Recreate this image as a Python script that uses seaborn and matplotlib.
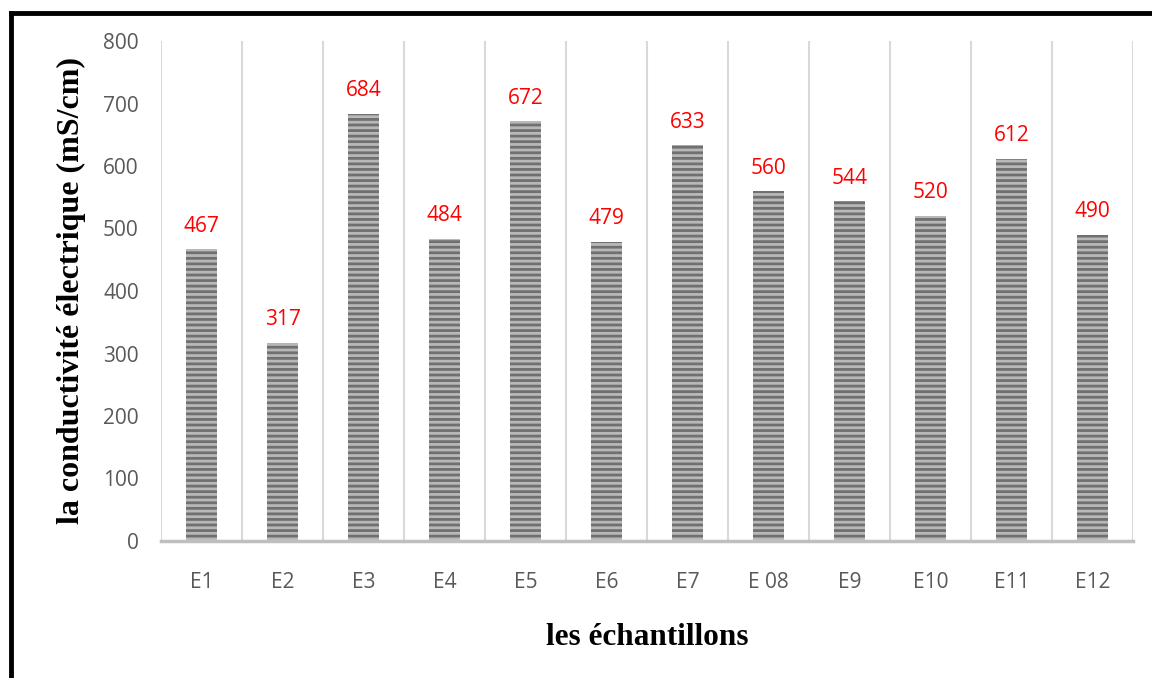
import matplotlib
matplotlib.use("Agg")
import matplotlib.pyplot as plt
from matplotlib.lines import Line2D
import seaborn as sns
import pandas as pd
import numpy as np

samples = ["E1", "E2", "E3", "E4", "E5", "E6", "E7", "E 08", "E9", "E10", "E11", "E12"]
conductivity = [467, 317, 684, 484, 672, 479, 633, 560, 544, 520, 612, 490]
y_ticks = [0, 100, 200, 300, 400, 500, 600, 700, 800]

sns.set_theme(style="white")
plt.rcParams["font.family"] = ["Open Sans", "DejaVu Sans"]
plt.rcParams["hatch.linewidth"] = 2.0
plt.rcParams["hatch.color"] = "#707070"

df = pd.DataFrame({"sample": samples, "value": conductivity})

fig = plt.figure(figsize=(11.52, 6.78), dpi=100)
ax = fig.add_axes([161 / 1152, 1 - 541 / 678, (1133 - 161) / 1152, 500 / 678])

sns.barplot(data=df, x="sample", y="value", order=samples, color="#b8b8b8",
            saturation=1, width=0.38, ax=ax)
for p in ax.patches:
    p.set_hatch("---")
    p.set_edgecolor("#707070")
    p.set_linewidth(0)

# value labels above each bar
for i, v in enumerate(conductivity):
    ax.annotate(f"{v}", (i, v), xytext=(0, 9), textcoords="offset points",
                ha="center", va="bottom", color="#ff0000", fontsize=15)

ax.set_xlim(-0.5, len(samples) - 0.5)
ax.set_ylim(0, 800)
ax.set_yticks(y_ticks)
ax.set_yticklabels([str(t) for t in y_ticks])

# vertical separators between categories
ax.set_xticks(np.arange(-0.5, len(samples)), minor=True)
ax.grid(which="minor", axis="x", color="#d9d9d9", linewidth=1.5)
ax.grid(which="major", visible=False)
ax.tick_params(axis="both", which="both", length=0)
ax.tick_params(axis="y", pad=16, labelsize=15, labelcolor="#595959")
ax.tick_params(axis="x", pad=22, labelsize=15, labelcolor="#595959")

for s in ["top", "right", "left"]:
    ax.spines[s].set_visible(False)
ax.spines["bottom"].set_color("#bfbfbf")
ax.spines["bottom"].set_linewidth(2.5)

ax.set_xlabel("les échantillons", family=["Liberation Serif"], fontweight="bold",
              fontsize=22.5, color="black", labelpad=22)
ax.set_ylabel("la conductivité électrique (mS/cm)", family=["Liberation Serif"],
              fontweight="bold", fontsize=23, color="black", labelpad=12)

# black frame around the figure (left and top edges)
fig.add_artist(Line2D([10.5 / 1152, 10.5 / 1152], [0, 1 - 13 / 678], color="black",
                      linewidth=3.5, transform=fig.transFigure, solid_capstyle="projecting"))
fig.add_artist(Line2D([10.5 / 1152, 1], [1 - 13 / 678, 1 - 13 / 678], color="black",
                      linewidth=3.5, transform=fig.transFigure, solid_capstyle="projecting"))

fig.savefig("out.png", dpi=100)
